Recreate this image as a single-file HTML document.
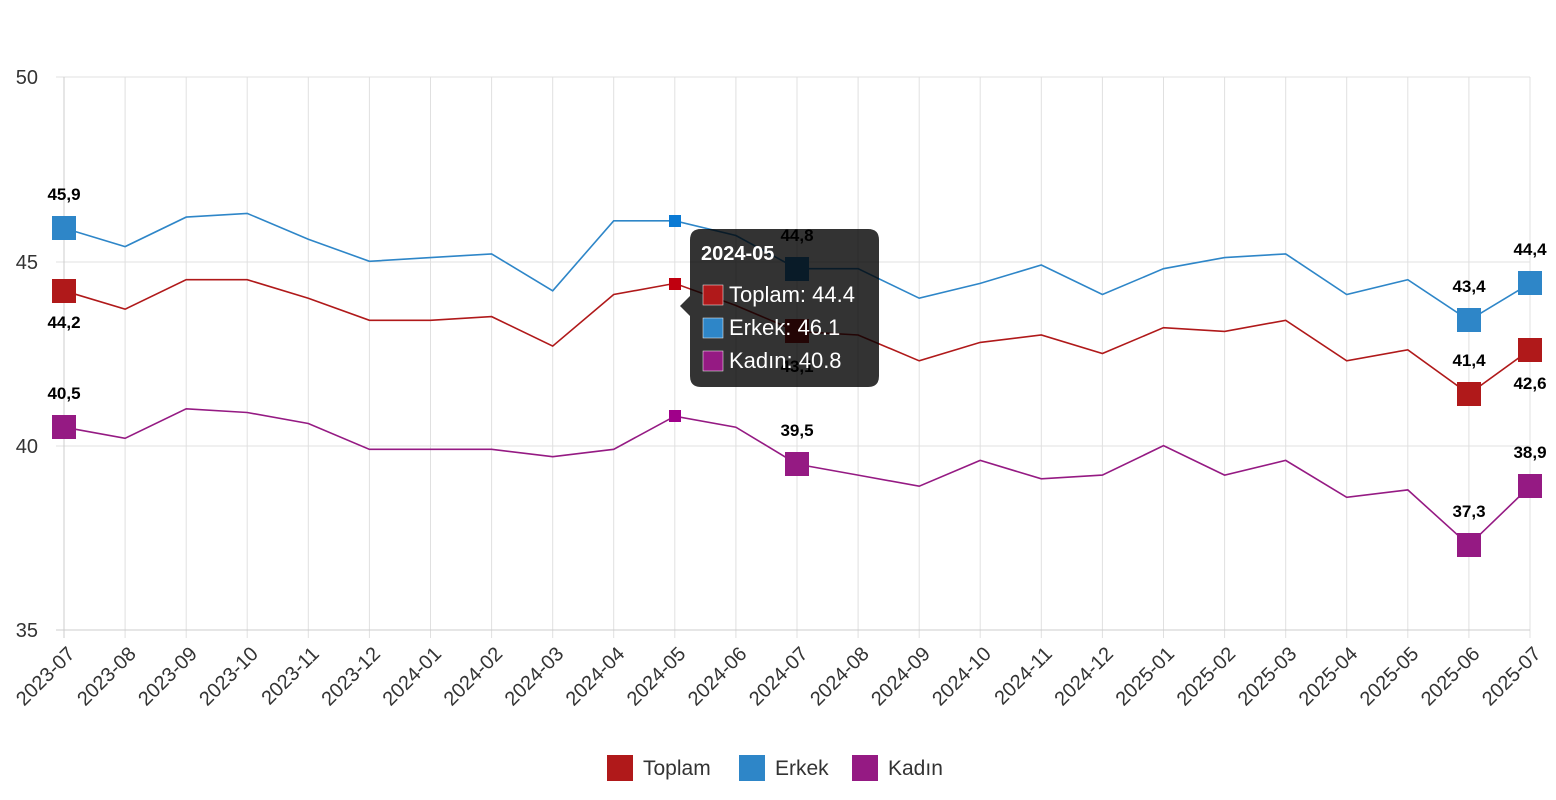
<!DOCTYPE html>
<html><head><meta charset="utf-8"><style>
html,body{margin:0;padding:0;background:#fff;}
svg{display:block;font-family:"Liberation Sans","DejaVu Sans",sans-serif;}
</style></head><body>
<svg width="1556" height="800" viewBox="0 0 1556 800">
<g stroke="#e0e0e0" stroke-width="1">
<line x1="56" y1="77" x2="1530" y2="77"/><line x1="56" y1="262" x2="1530" y2="262"/><line x1="56" y1="446" x2="1530" y2="446"/>
<line x1="125.1" y1="77" x2="125.1" y2="638"/><line x1="186.2" y1="77" x2="186.2" y2="638"/><line x1="247.2" y1="77" x2="247.2" y2="638"/><line x1="308.3" y1="77" x2="308.3" y2="638"/><line x1="369.4" y1="77" x2="369.4" y2="638"/><line x1="430.5" y1="77" x2="430.5" y2="638"/><line x1="491.6" y1="77" x2="491.6" y2="638"/><line x1="552.7" y1="77" x2="552.7" y2="638"/><line x1="613.7" y1="77" x2="613.7" y2="638"/><line x1="674.8" y1="77" x2="674.8" y2="638"/><line x1="735.9" y1="77" x2="735.9" y2="638"/><line x1="797" y1="77" x2="797" y2="638"/><line x1="858.1" y1="77" x2="858.1" y2="638"/><line x1="919.2" y1="77" x2="919.2" y2="638"/><line x1="980.2" y1="77" x2="980.2" y2="638"/><line x1="1041.3" y1="77" x2="1041.3" y2="638"/><line x1="1102.4" y1="77" x2="1102.4" y2="638"/><line x1="1163.5" y1="77" x2="1163.5" y2="638"/><line x1="1224.6" y1="77" x2="1224.6" y2="638"/><line x1="1285.7" y1="77" x2="1285.7" y2="638"/><line x1="1346.7" y1="77" x2="1346.7" y2="638"/><line x1="1407.8" y1="77" x2="1407.8" y2="638"/><line x1="1468.9" y1="77" x2="1468.9" y2="638"/><line x1="1530" y1="77" x2="1530" y2="638"/>
</g>
<line x1="64" y1="77" x2="64" y2="638" stroke="#ccc"/>
<line x1="56" y1="630" x2="1530" y2="630" stroke="#ccc"/>
<g font-size="20" fill="#333" text-anchor="end">
<text x="38" y="84">50</text><text x="38" y="269">45</text><text x="38" y="453">40</text><text x="38" y="637">35</text>
</g>
<g font-size="20" fill="#333" text-anchor="end">
<text transform="translate(76,655) rotate(-45)">2023-07</text><text transform="translate(137.1,655) rotate(-45)">2023-08</text><text transform="translate(198.2,655) rotate(-45)">2023-09</text><text transform="translate(259.2,655) rotate(-45)">2023-10</text><text transform="translate(320.3,655) rotate(-45)">2023-11</text><text transform="translate(381.4,655) rotate(-45)">2023-12</text><text transform="translate(442.5,655) rotate(-45)">2024-01</text><text transform="translate(503.6,655) rotate(-45)">2024-02</text><text transform="translate(564.7,655) rotate(-45)">2024-03</text><text transform="translate(625.7,655) rotate(-45)">2024-04</text><text transform="translate(686.8,655) rotate(-45)">2024-05</text><text transform="translate(747.9,655) rotate(-45)">2024-06</text><text transform="translate(809,655) rotate(-45)">2024-07</text><text transform="translate(870.1,655) rotate(-45)">2024-08</text><text transform="translate(931.2,655) rotate(-45)">2024-09</text><text transform="translate(992.2,655) rotate(-45)">2024-10</text><text transform="translate(1053.3,655) rotate(-45)">2024-11</text><text transform="translate(1114.4,655) rotate(-45)">2024-12</text><text transform="translate(1175.5,655) rotate(-45)">2025-01</text><text transform="translate(1236.6,655) rotate(-45)">2025-02</text><text transform="translate(1297.7,655) rotate(-45)">2025-03</text><text transform="translate(1358.7,655) rotate(-45)">2025-04</text><text transform="translate(1419.8,655) rotate(-45)">2025-05</text><text transform="translate(1480.9,655) rotate(-45)">2025-06</text><text transform="translate(1542,655) rotate(-45)">2025-07</text>
</g>
<g fill="none" stroke-width="1.6">
<polyline stroke="#2e86c8" points="64,228.1 125.1,246.6 186.2,217.1 247.2,213.4 308.3,239.2 369.4,261.3 430.5,257.6 491.6,253.9 552.7,290.8 613.7,220.8 674.8,220.8 735.9,235.5 797,268.7 858.1,268.7 919.2,298.2 980.2,283.4 1041.3,265 1102.4,294.5 1163.5,268.7 1224.6,257.6 1285.7,253.9 1346.7,294.5 1407.8,279.7 1468.9,320.3 1530,283.4"/>
<polyline stroke="#b0191a" points="64,290.8 125.1,309.2 186.2,279.7 247.2,279.7 308.3,298.2 369.4,320.3 430.5,320.3 491.6,316.6 552.7,346.1 613.7,294.5 674.8,283.4 735.9,305.5 797,331.4 858.1,335 919.2,360.8 980.2,342.4 1041.3,335 1102.4,353.5 1163.5,327.7 1224.6,331.4 1285.7,320.3 1346.7,360.8 1407.8,349.8 1468.9,394 1530,349.8"/>
<polyline stroke="#951a83" points="64,427.2 125.1,438.3 186.2,408.8 247.2,412.5 308.3,423.5 369.4,449.3 430.5,449.3 491.6,449.3 552.7,456.7 613.7,449.3 674.8,416.2 735.9,427.2 797,464.1 858.1,475.1 919.2,486.2 980.2,460.4 1041.3,478.8 1102.4,475.1 1163.5,445.7 1224.6,475.1 1285.7,460.4 1346.7,497.3 1407.8,489.9 1468.9,545.2 1530,486.2"/>
</g>
<g fill="#2e86c8"><rect x="52" y="216" width="24" height="24"/><rect x="785" y="257" width="24" height="24"/><rect x="1457" y="308" width="24" height="24"/><rect x="1518" y="271" width="24" height="24"/><rect x="669" y="215" width="12" height="12" fill="#0a7ad4"/></g>
<g fill="#b0191a"><rect x="52" y="279" width="24" height="24"/><rect x="785" y="319" width="24" height="24"/><rect x="1457" y="382" width="24" height="24"/><rect x="1518" y="338" width="24" height="24"/><rect x="669" y="278" width="12" height="12" fill="#c0000f"/></g>
<g fill="#951a83"><rect x="52" y="415" width="24" height="24"/><rect x="785" y="452" width="24" height="24"/><rect x="1457" y="533" width="24" height="24"/><rect x="1518" y="474" width="24" height="24"/><rect x="669" y="410" width="12" height="12" fill="#a0008a"/></g>
<g font-size="17" font-weight="bold" fill="#000" text-anchor="middle">
<text x="64" y="200">45,9</text><text x="64" y="328">44,2</text><text x="64" y="399">40,5</text>
<text x="797" y="241">44,8</text><text x="797" y="372">43,1</text><text x="797" y="436">39,5</text>
<text x="1469" y="292">43,4</text><text x="1469" y="366">41,4</text><text x="1469" y="517">37,3</text>
<text x="1530" y="255">44,4</text><text x="1530" y="389">42,6</text><text x="1530" y="458">38,9</text>
</g>
<path d="M700,229 H868 Q879,229 879,240 V376 Q879,387 868,387 H701 Q690,387 690,376 V316 L680,306 L690,296 V240 Q690,229 701,229 Z" fill="rgba(0,0,0,0.8)"/>
<text x="701" y="260" font-size="20" font-weight="bold" fill="#fff">2024-05</text>
<rect x="703" y="285" width="20" height="20" fill="#b0191a" stroke="#fff" stroke-width="0.5"/>
<rect x="703" y="318" width="20" height="20" fill="#2e86c8" stroke="#fff" stroke-width="0.5"/>
<rect x="703" y="351" width="20" height="20" fill="#951a83" stroke="#fff" stroke-width="0.5"/>
<g font-size="22" fill="#fff"><text x="729" y="302">Toplam: 44.4</text><text x="729" y="335">Erkek: 46.1</text><text x="729" y="368">Kadın: 40.8</text></g>
<rect x="607" y="755" width="26" height="26" fill="#b0191a"/><text x="643" y="775" font-size="21" fill="#333">Toplam</text>
<rect x="739" y="755" width="26" height="26" fill="#2e86c8"/><text x="775" y="775" font-size="21" fill="#333">Erkek</text>
<rect x="852" y="755" width="26" height="26" fill="#951a83"/><text x="888" y="775" font-size="21" fill="#333">Kadın</text>
</svg>
</body></html>
